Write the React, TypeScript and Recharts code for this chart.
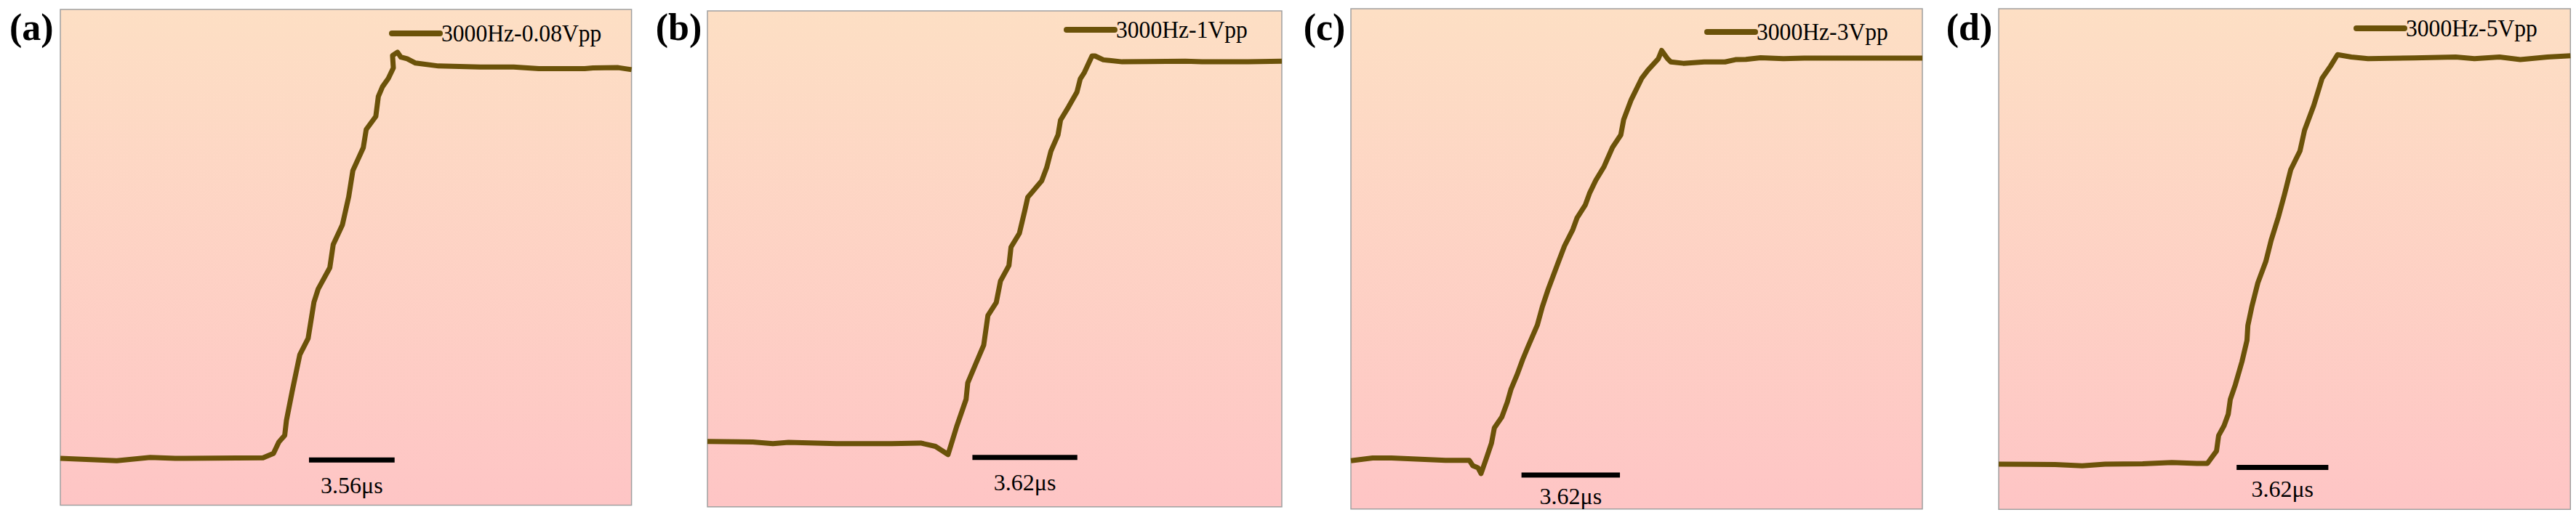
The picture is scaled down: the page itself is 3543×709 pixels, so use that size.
import React from "react";
import {
  LineChart,
  Line,
  XAxis,
  YAxis,
  ReferenceArea,
  ReferenceLine,
  Legend,
} from "recharts";

// time (% of window) and signal (% of window height)
const tA = [0, 9.88, 15.73, 20.12, 35.48, 37.31, 38.26, 39.28, 39.58, 40.6, 41.92, 43.38, 44.4, 45.14, 47.18, 47.77, 49.38, 50.48, 51.21, 53.04, 53.55, 55.23, 55.67, 56.4, 57.42, 58.3, 58.16, 59.03, 59.62, 60.72, 62.18, 66.2, 73.52, 79.37, 83.76, 91.81, 93.27, 97.66, 100];
const vA = [9.42, 8.96, 9.62, 9.42, 9.56, 10.42, 12.74, 14.07, 17.05, 23.03, 30.33, 33.64, 40.94, 43.6, 47.91, 52.55, 56.54, 62.18, 67.49, 72.13, 75.78, 78.43, 82.42, 84.41, 86.07, 88.19, 90.71, 91.37, 90.38, 90.05, 89.18, 88.59, 88.39, 88.39, 88.06, 88.06, 88.19, 88.26, 87.86];

const tB = [0, 7.89, 11.4, 14.11, 22.51, 32.02, 37.13, 39.69, 41.89, 43.35, 45.03, 45.32, 46.64, 48.1, 48.83, 50.29, 51.02, 52.49, 52.85, 54.31, 55.26, 55.77, 56.51, 58.19, 59.06, 59.8, 61.04, 61.48, 62.87, 64.33, 64.91, 65.64, 66.96, 67.47, 68.93, 72.22, 76.61, 83.19, 86.11, 94.15, 100];
const vB = [13.19, 13.05, 12.72, 12.99, 12.72, 12.72, 12.86, 12.19, 10.54, 16.04, 21.67, 24.98, 28.63, 32.6, 38.57, 41.22, 45.53, 48.64, 52.35, 55.14, 59.77, 62.43, 63.42, 65.74, 68.39, 71.7, 75.02, 78.0, 80.65, 83.63, 86.28, 87.61, 90.92, 90.92, 90.13, 89.73, 89.79, 89.86, 89.73, 89.73, 89.86];

const tC = [0, 3.8, 7.08, 11.46, 16.57, 20.73, 21.31, 22.26, 22.77, 23.72, 24.6, 25.11, 26.42, 27.37, 28.03, 29.12, 30.07, 31.02, 32.63, 33.5, 34.45, 36.28, 37.37, 38.83, 39.56, 41.02, 41.75, 42.85, 44.31, 45.77, 47.23, 47.74, 49.05, 50.88, 51.97, 53.8, 54.38, 55.4, 55.99, 58.18, 61.82, 65.47, 67.3, 69.12, 71.68, 75.69, 79.34, 100];
const vC = [9.66, 10.18, 10.18, 9.99, 9.72, 9.72, 8.67, 8.21, 7.1, 10.18, 13.14, 16.23, 18.4, 21.35, 23.98, 26.94, 29.9, 32.52, 36.79, 40.41, 43.69, 49.28, 52.56, 55.85, 58.15, 60.78, 63.07, 65.7, 68.46, 72.27, 74.77, 77.86, 81.8, 86.07, 87.71, 90.01, 91.66, 90.01, 89.36, 89.09, 89.36, 89.36, 89.82, 89.88, 90.21, 90.01, 90.14, 90.14];

const tD = [0, 9.85, 14.6, 18.61, 25.18, 30.29, 34.67, 36.5, 38.1, 38.47, 39.42, 40.15, 40.51, 41.39, 42.55, 43.43, 43.58, 44.31, 45.33, 46.72, 47.66, 48.91, 50.0, 51.09, 52.7, 53.5, 55.11, 56.57, 58.03, 59.27, 61.68, 64.6, 72.63, 79.93, 83.21, 87.59, 91.24, 95.99, 100];
const vD = [9.05, 8.98, 8.72, 9.05, 9.11, 9.38, 9.18, 9.18, 11.67, 14.75, 16.72, 19.02, 21.97, 24.92, 29.51, 33.77, 36.72, 40.66, 45.25, 49.51, 53.77, 58.36, 62.95, 67.87, 71.61, 75.74, 80.66, 86.1, 88.52, 90.82, 90.36, 90.03, 90.16, 90.36, 90.03, 90.36, 89.84, 90.36, 90.62];

const seriesNames = ["3000Hz-0.08Vpp", "3000Hz-1Vpp", "3000Hz-3Vpp", "3000Hz-5Vpp"];
const panelLabels = ["(a)", "(b)", "(c)", "(d)"];
const scaleBarText = ["3.56μs", "3.62μs", "3.62μs", "3.62μs"];
// scale bar [start, end, level]
const scaleBars = [
  [43.53, 58.52, 9.09],
  [46.13, 64.4, 9.94],
  [29.85, 47.08, 6.77],
  [41.61, 57.66, 8.39],
];

const zip = (t: number[], v: number[]) => t.map((x, i) => ({ t: x, v: v[i] }));
const datasets = [zip(tA, vA), zip(tB, vB), zip(tC, vC), zip(tD, vD)];

// layout of each panel (px)
const layout = [
  { left: 82.7, top: 13.3, w: 785.6, h: 682.4, labelLeft: 13, legX: 452, legY: 32.4, barOff: 23 },
  { left: 972.7, top: 15, w: 790, h: 682.7, labelLeft: 901.7, legX: 490.8, legY: 25.8, barOff: 22 },
  { left: 1858.3, top: 12.3, w: 786, h: 688.7, labelLeft: 1792.7, legX: 485.9, legY: 31.5, barOff: 17 },
  { left: 2749, top: 11.7, w: 786.3, h: 689.3, labelLeft: 2676.7, legX: 487.8, legY: 27, barOff: 18 },
];

const FONT = '"Liberation Serif", "Times New Roman", serif';
const TRACE = "#6b5209";

function LegendItem({ payload }: any) {
  const item = payload && payload[0];
  if (!item) return null;
  return (
    <div style={{ display: "flex", alignItems: "center", height: 38 }}>
      <span
        style={{
          display: "inline-block",
          width: 74,
          height: 8,
          borderRadius: 4,
          background: item.color,
        }}
      />
      <span
        style={{
          display: "inline-block",
          fontFamily: FONT,
          fontSize: 34,
          lineHeight: "38px",
          color: "#000",
          marginLeft: -2,
          whiteSpace: "nowrap",
          transform: "scaleX(0.93)",
          transformOrigin: "left center",
        }}
      >
        {item.value}
      </span>
    </div>
  );
}

function Panel({ idx }: { idx: number }) {
  const p = layout[idx];
  const [x1, x2, yb] = scaleBars[idx];
  const gid = `bg-${idx}`;
  return (
    <div style={{ position: "absolute", left: p.left - 2, top: p.top - 2 }}>
      <LineChart
        width={p.w + 4}
        height={p.h + 4}
        data={datasets[idx]}
        margin={{ top: 2, right: 2, bottom: 2, left: 2 }}
      >
        <defs>
          <linearGradient id={gid} x1="0" y1="0" x2="0" y2="1">
            <stop offset="0%" stopColor="#fddfc4" />
            <stop offset="100%" stopColor="#fec5c5" />
          </linearGradient>
        </defs>
        <XAxis type="number" dataKey="t" domain={[0, 100]} hide />
        <YAxis type="number" domain={[0, 100]} hide />
        <ReferenceArea
          x1={0}
          x2={100}
          y1={0}
          y2={100}
          fill={`url(#${gid})`}
          fillOpacity={1}
          stroke="#a0a0a0"
          strokeWidth={1.5}
        />
        <Line
          type="linear"
          dataKey="v"
          name={seriesNames[idx]}
          stroke={TRACE}
          strokeWidth={7}
          strokeLinejoin="round"
          dot={false}
          activeDot={false}
          isAnimationActive={false}
        />
        <ReferenceLine
          segment={[
            { x: x1, y: yb },
            { x: x2, y: yb },
          ]}
          stroke="#000"
          strokeWidth={7}
          label={{
            value: scaleBarText[idx],
            position: "bottom",
            offset: p.barOff,
            fill: "#000",
            fontSize: 32,
            fontFamily: FONT,
          }}
        />
        <Legend
          layout="horizontal"
          verticalAlign="middle"
          content={<LegendItem />}
          wrapperStyle={{
            top: 2 + p.legY - 19,
            left: 2 + p.legX,
            width: "auto",
            height: 38,
          }}
        />
      </LineChart>
    </div>
  );
}

export default function App() {
  return (
    <div
      style={{
        position: "absolute",
        left: 0,
        top: 0,
        width: 3543,
        height: 709,
        background: "#fff",
        overflow: "hidden",
      }}
    >
      {layout.map((p, i) => (
        <div
          key={panelLabels[i]}
          style={{
            position: "absolute",
            left: p.labelLeft,
            top: 11.5,
            fontFamily: FONT,
            fontWeight: "bold",
            fontSize: 52,
            lineHeight: "52px",
            color: "#000",
          }}
        >
          {panelLabels[i]}
        </div>
      ))}
      {layout.map((_, i) => (
        <Panel key={i} idx={i} />
      ))}
    </div>
  );
}
